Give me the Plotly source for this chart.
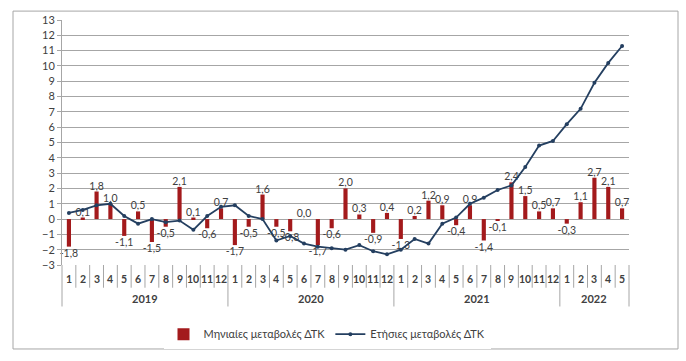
import plotly.graph_objects as go

years = ["2019"] * 12 + ["2020"] * 12 + ["2021"] * 12 + ["2022"] * 5
months = [str(m) for m in range(1, 13)] * 3 + [str(m) for m in range(1, 6)]

monthly = [-1.8, 0.1, 1.8, 1.0, -1.1, 0.5, -1.5, -0.5, 2.1, 0.1, -0.6, 0.7,
           -1.7, -0.5, 1.6, -0.5, -0.8, 0.0, -1.7, -0.6, 2.0, 0.3, -0.9, 0.4,
           -1.3, 0.2, 1.2, 0.9, -0.4, 0.9, -1.4, -0.1, 2.4, 1.5, 0.5, 0.7,
           -0.3, 1.1, 2.7, 2.1, 0.7]
annual = [0.4, 0.6, 0.9, 1.0, 0.2, -0.3, 0.0, -0.2, -0.1, -0.7, 0.2, 0.8,
          0.9, 0.2, 0.0, -1.4, -1.1, -1.6, -1.8, -1.9, -2.0, -1.7, -2.1, -2.3,
          -2.0, -1.3, -1.6, -0.3, 0.1, 1.0, 1.4, 1.9, 2.2, 3.4, 4.8, 5.1,
          6.2, 7.2, 8.9, 10.2, 11.3]
y_ticks = list(range(-3, 14))

bar_name = "Μηνιαίες μεταβολές ΔΤΚ"
line_name = "Ετήσιες μεταβολές ΔΤΚ"

FONT = "Lato, 'Liberation Sans', sans-serif"
labels = [f"{v:.1f}".replace(".", ",") for v in monthly]

fig = go.Figure()
fig.add_trace(go.Bar(
    x=[years, months], y=monthly, name=bar_name,
    marker=dict(color="#A31A1C", line=dict(width=0)),
    text=labels, textposition="outside", cliponaxis=False, constraintext="none",
    textfont=dict(family=FONT, size=10.5, color="#404040"),
))
fig.add_trace(go.Scatter(
    x=[years, months], y=annual, name=line_name, mode="lines+markers",
    line=dict(color="#243F60", width=1.8),
    marker=dict(color="#243F60", size=4, symbol="circle"),
    cliponaxis=False,
))

L, T, W, H = 62, 20, 567, 248
def px(x):
    return (x - L) / W
def py(y):
    return (T + H - y) / H

n = len(months)
shapes = [dict(type="rect", xref="paper", yref="paper",
               x0=px(13), x1=px(678), y0=py(353), y1=py(11),
               line=dict(color="#A6A6A6", width=1), layer="below")]
annotations = []
year_start = 0
for i in range(n + 1):
    is_year = (i == 0 or i == n or months[i] == "1")
    shapes.append(dict(type="line", xref="paper", yref="paper",
                       x0=i / n, x1=i / n, y0=0, y1=py(310 if is_year else 291),
                       line=dict(color="#A6A6A6", width=1)))
    if is_year and i > 0:
        annotations.append(dict(xref="paper", yref="paper", x=(year_start + i) / 2 / n,
                                y=py(302), text=f"<b>{years[i - 1]}</b>", showarrow=False,
                                xanchor="center", yanchor="middle",
                                font=dict(family=FONT, size=11, color="#404040")))
        year_start = i
for i, m in enumerate(months):
    annotations.append(dict(xref="paper", yref="paper", x=(i + 0.5) / n, y=py(282),
                            text=f"<b>{m}</b>", showarrow=False, xanchor="center",
                            yanchor="middle",
                            font=dict(family=FONT, size=10.5, color="#404040")))

fig.update_layout(
    width=686, height=361,
    margin=dict(l=L, r=686 - L - W, t=T, b=361 - T - H),
    paper_bgcolor="white", plot_bgcolor="white",
    bargap=0.7,
    font=dict(family=FONT, size=11, color="#404040"),
    showlegend=True,
    legend=dict(orientation="h", x=px(327), xanchor="center", y=py(338), yanchor="middle",
                font=dict(family=FONT, size=11, color="#404040"),
                itemwidth=30, traceorder="normal"),
    xaxis=dict(type="multicategory", range=[-0.5, n - 0.5], autorange=False,
               showgrid=False, zeroline=False,
               showline=False, ticks="", showdividers=False, showticklabels=False),
    yaxis=dict(range=[-3, 13], tickvals=y_ticks, showgrid=True, gridcolor="#A6A6A6",
               gridwidth=1, zeroline=True, zerolinecolor="#A6A6A6", zerolinewidth=1,
               showline=True, linecolor="#A6A6A6", linewidth=1,
               ticks="outside", ticklen=4, tickcolor="#A6A6A6",
               tickfont=dict(family=FONT, size=11, color="#404040")),
    shapes=shapes,
    annotations=annotations,
)

fig.write_html("out.html", config={"displayModeBar": False},
               post_script="document.body.style.margin='0';")
